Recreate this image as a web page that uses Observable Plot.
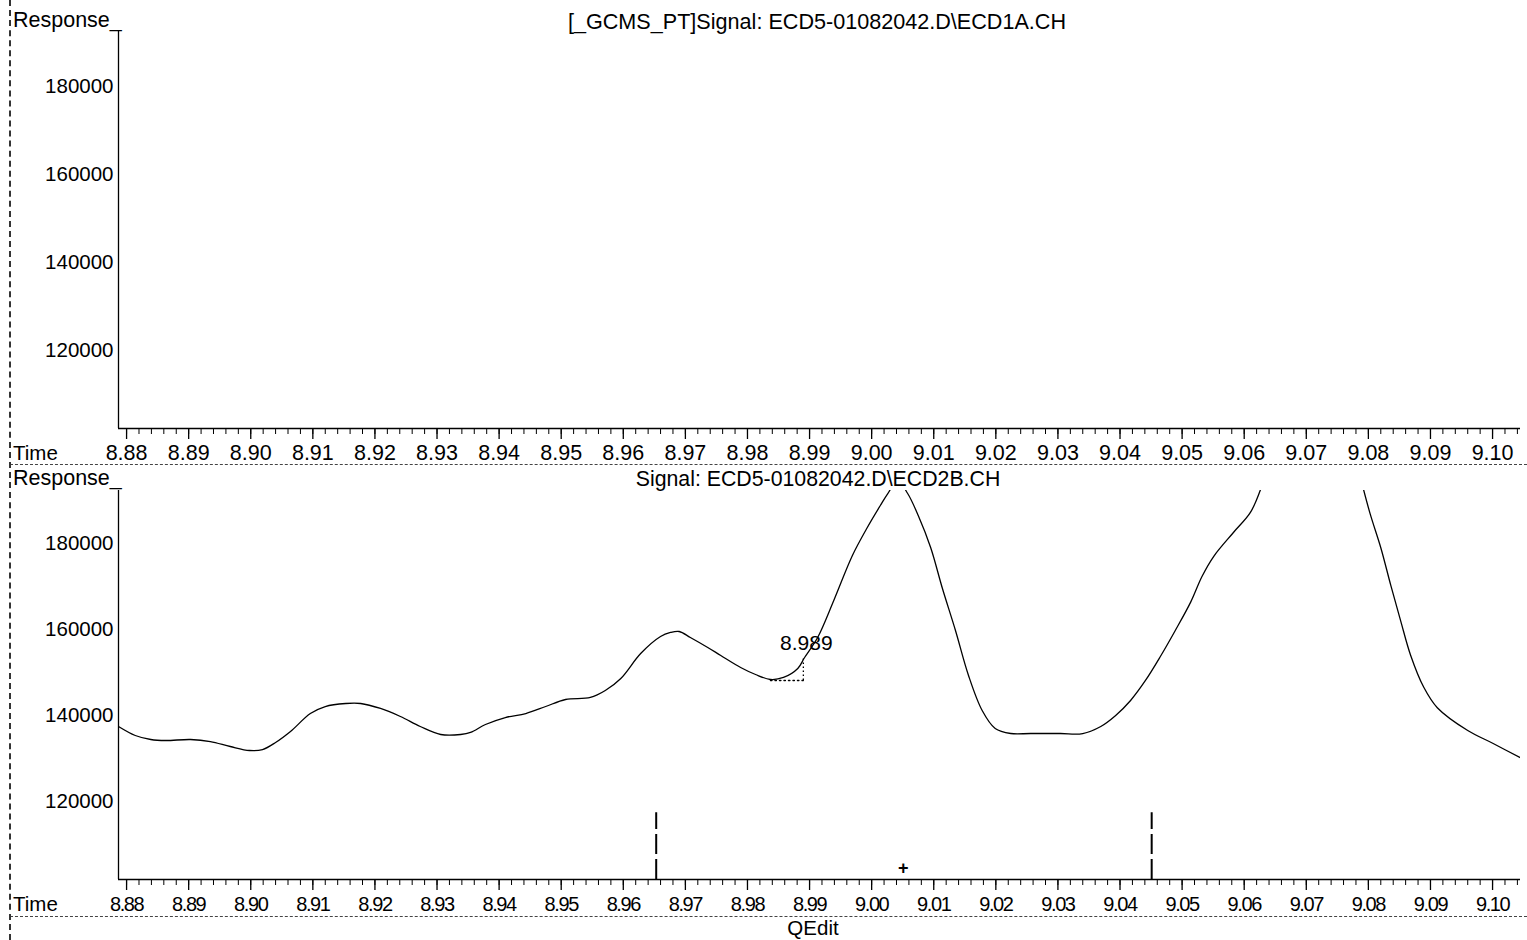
<!DOCTYPE html>
<html><head><meta charset="utf-8">
<script src="https://cdn.jsdelivr.net/npm/d3@7"></script>
<script src="https://cdn.jsdelivr.net/npm/@observablehq/plot@0.6"></script>
<style>
html,body{margin:0;padding:0;background:#fff;}
#chart{position:relative;width:1527px;height:940px;overflow:hidden;font-family:"Liberation Sans",Arial,sans-serif;color:#000;background:#fff;}
.panel{position:absolute;left:0;}
.lbl{position:absolute;font-size:21px;line-height:1;white-space:nowrap;}
.ctr{transform:translateX(-50%);}
.sep{position:absolute;left:10px;right:0;height:0;border-top:1px dashed #444;}
.vsep{position:absolute;left:9px;top:0;bottom:0;width:0;border-left:2px dashed #333;}
</style></head><body><div id="chart"></div>
<script>
(function () {
// ---- text ----
const panelTitles = ["[_GCMS_PT]Signal: ECD5-01082042.D\\ECD1A.CH", "Signal: ECD5-01082042.D\\ECD2B.CH"];
const yAxisLabel = "Response_";
const xAxisLabel = "Time";
const footerLabel = "QEdit";

// ---- scales / ticks ----
const xDomain = [8.8787, 9.1045];
const majorTicks = [8.88, 8.89, 8.90, 8.91, 8.92, 8.93, 8.94, 8.95, 8.96, 8.97, 8.98, 8.99, 9.00, 9.01, 9.02, 9.03, 9.04, 9.05, 9.06, 9.07, 9.08, 9.09, 9.10];
const minorTicks = d3.range(0, 113).map(i => +(8.88 + i * 0.002).toFixed(3)).filter(t => t <= xDomain[1]);
const yTicks = [120000, 140000, 160000, 180000];
const yDomainTop = [102200, 192800];
const yDomainBottom = [101860, 192300];

// ---- signal ECD2B (bottom panel); segment 2 re-enters after the off-scale peak ----
const timeB = [8.8787, 8.8814, 8.8839, 8.8863, 8.8903, 8.8935, 8.8967, 8.8998, 8.9019, 8.9040,
  8.9064, 8.9096, 8.9120, 8.9153, 8.9177, 8.9209, 8.9241, 8.9273, 8.9306, 8.9338,
  8.9354, 8.9378, 8.9410, 8.9443, 8.9475, 8.9507, 8.9547, 8.9571, 8.9596, 8.9628,
  8.9660, 8.9676, 8.9690, 8.9708, 8.9736, 8.9757, 8.9789, 8.9813, 8.9837, 8.9858,
  8.9881, 8.9892, 8.9913, 8.9939, 8.9969, 8.9993, 9.0014, 9.0026, 9.0042, 9.0058,
  9.0075, 9.0095, 9.0114, 9.0135, 9.0156, 9.0178, 9.0199, 9.0224, 9.0256, 9.0304,
  9.0340, 9.0369, 9.0393, 9.0417, 9.0441, 9.0465, 9.0489, 9.0514, 9.0532, 9.0551,
  9.0583, 9.0610, 9.0628,
  9.0791, 9.0803, 9.0820, 9.0836, 9.0852, 9.0868,
  9.0889, 9.0911, 9.0960, 9.1001, 9.1047];
const respB = [137430, 135340, 134410, 134175, 134410, 133940, 132780, 131850, 132080, 133710,
  136270, 140450, 142080, 142780, 142780, 141620, 139760, 137430, 135570, 135570,
  136040, 137900, 139520, 140450, 142080, 143710, 144180, 145800, 148590, 154400,
  158350, 159290, 159520, 158120, 155800, 153940, 151150, 149520, 148360, 148830,
  150920, 153470, 158120, 166730, 177190, 183700, 188810, 191600, 194500, 191600,
  186490, 179050, 169510, 159750, 149290, 141150, 136970, 135800, 135800, 135800,
  135800, 137430, 139990, 143480, 148130, 153700, 159750, 166400, 172300, 177000,
  182600, 187200, 193200,
  193200, 186800, 179000, 170300, 162000, 154000,
  146600, 141800, 136500, 133480, 129990];
const segmentB = timeB.map(t => t < 9.07 ? "a" : "b");

// ---- peak annotation ----
const peakRT = [8.989];
const peakRTLabel = ["8.989"];
const baselineTimes = [8.9837, 8.989];
const baselineResp = [148130, 148130];
const peakTopResp = [153470];
const integrationTimes = [8.9653, 9.0451];
const integrationTopResp = [117400];
const cursorTime = [9.0051];
const cursorResp = [104400];

const signalB = timeB.map((t, i) => ({t, r: respB[i], s: segmentB[i]}));
const baseline = baselineTimes.map((t, i) => ({t, r: baselineResp[i]}));

const FONT = '"Liberation Sans", Arial, sans-serif';

function panel({height, marginTop, marginBottom, yDomain, xFont, xPad, xLetter, marks}) {
  const svg = Plot.plot({
    width: 1527, height, marginLeft: 118, marginRight: 7, marginTop, marginBottom,
    x: {domain: xDomain, label: null},
    y: {domain: yDomain, label: null},
    style: {fontFamily: FONT, background: "transparent", color: "#000", overflow: "visible"},
    marks: [
      Plot.axisX(minorTicks, {tickSize: 6, tickFormat: () => "", label: null, strokeWidth: 1}),
      Plot.axisX(majorTicks, {tickSize: 11, tickPadding: xPad, tickFormat: d3.format(".2f"), label: null, fontSize: xFont, strokeWidth: 1.3}),
      Plot.axisY(yTicks, {tickSize: 0, tickPadding: 5, tickFormat: d => String(d), label: null, fontSize: 20.5}),
      Plot.ruleY([yDomain[0]], {stroke: "#000", strokeWidth: 1.3}),
      Plot.ruleX([xDomain[0]], {stroke: "#000", strokeWidth: 1.3}),
      ...marks
    ]
  });
  if (xLetter) {
    svg.querySelectorAll('g[aria-label="x-axis tick label"] text').forEach(t => t.setAttribute("letter-spacing", xLetter));
  }
  return svg;
}

const chart = document.getElementById("chart");

const topPanel = panel({height: 464, marginTop: 30, marginBottom: 36, yDomain: yDomainTop, xFont: 21.5, xPad: 5, marks: []});
topPanel.classList.add("panel"); topPanel.style.top = "0px";
chart.appendChild(topPanel);

const bottomPanel = panel({
  height: 452, marginTop: 26, marginBottom: 37, yDomain: yDomainBottom, xFont: 20, xPad: 6, xLetter: "-1.4px",
  marks: [
    Plot.line(signalB, {x: "t", y: "r", z: "s", curve: "catmull-rom", stroke: "#000", strokeWidth: 1.3, clip: true}),
    Plot.line(baseline, {x: "t", y: "r", stroke: "#000", strokeWidth: 1.3, strokeDasharray: "1.5,3"}),
    Plot.ruleX(peakRT, {x: d => d, y1: baselineResp[1], y2: peakTopResp[0], stroke: "#000", strokeWidth: 1.3, strokeDasharray: "1.5,2.5"}),
    Plot.text(peakRT, {x: d => d, y: peakTopResp, text: (d, i) => peakRTLabel[i], dy: -14, dx: 3, fontSize: 21, fill: "#000"}),
    Plot.ruleX(integrationTimes, {x: d => d, y1: yDomainBottom[0], y2: integrationTopResp[0], stroke: "#000", strokeWidth: 2, strokeDasharray: "20,5"}),
    Plot.text(cursorTime, {x: d => d, y: cursorResp, text: () => "+", fontSize: 18, fontWeight: "bold", fill: "#000"})
  ]
});
bottomPanel.classList.add("panel"); bottomPanel.style.top = "464px";
chart.appendChild(bottomPanel);

function label(text, left, topPx, center, size) {
  const d = document.createElement("div");
  d.className = "lbl" + (center ? " ctr" : "");
  d.textContent = text;
  d.style.left = left + "px";
  d.style.top = topPx + "px";
  if (size) d.style.fontSize = size + "px";
  chart.appendChild(d);
  return d;
}
label(yAxisLabel, 13, 10, false, 21.5);
label(panelTitles[0], 817, 11, true, 21.6);
label(xAxisLabel, 13, 443, false, 20.5);
label(yAxisLabel, 13, 468, false, 21.5);
label(panelTitles[1], 818, 469, true, 21.3);
label(xAxisLabel, 13, 894, false, 20.5);
label(footerLabel, 813, 918, true, 20.5);

for (const y of [464, 916]) {
  const s = document.createElement("div");
  s.className = "sep"; s.style.top = y + "px";
  chart.appendChild(s);
}
const v = document.createElement("div");
v.className = "vsep";
chart.appendChild(v);
})();
</script>
</body></html>
